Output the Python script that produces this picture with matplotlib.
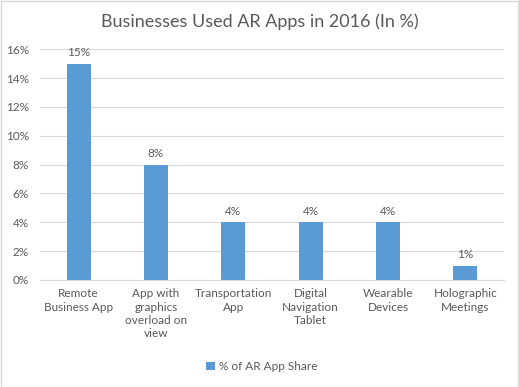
import matplotlib.pyplot as plt
from matplotlib.ticker import FuncFormatter

categories = [
    "Remote\nBusiness App",
    "App with\ngraphics\noverload on\nview",
    "Transportation\nApp",
    "Digital\nNavigation\nTablet",
    "Wearable\nDevices",
    "Holographic\nMeetings",
]
share = [15, 8, 4, 4, 4, 1]

BLUE = "#5b9bd5"
TEXT = "#595959"
GRID = "#d9d9d9"

plt.rcParams["font.family"] = ["Lato", "DejaVu Sans"]

fig = plt.figure(figsize=(5.19, 3.87), dpi=100)
ax = fig.add_axes([0.077, 0.2765, 0.894, 0.5965])

x = range(len(categories))
bars = ax.bar(x, share, width=0.31, color=BLUE, zorder=2, label="% of AR App Share")
for xi, v in zip(x, share):
    ax.annotate(f"{v}%", (xi, v), xytext=(0, 4), textcoords="offset points",
                ha="center", va="bottom", fontsize=8.5, color=TEXT)

ax.set_xlim(-0.5, len(categories) - 0.5)
ax.set_ylim(0, 16)
ax.set_yticks(range(0, 17, 2))
ax.yaxis.set_major_formatter(FuncFormatter(lambda v, _: f"{v:.0f}%"))
ax.set_xticks(list(x))
ax.set_xticklabels(categories, fontsize=8.5, color=TEXT, linespacing=1.25)
ax.tick_params(axis="y", labelsize=8.5, labelcolor=TEXT, length=0, pad=8)
ax.tick_params(axis="x", length=0, pad=6)
ax.grid(axis="y", color=GRID, lw=0.8, zorder=0)
for side in ("top", "right", "left"):
    ax.spines[side].set_visible(False)
ax.spines["bottom"].set_color(GRID)

fig.suptitle("Businesses Used AR Apps in 2016 (In %)", y=0.965, fontsize=13, color=TEXT)
fig.legend(handles=[bars], labels=["% of AR App Share"], loc="center", bbox_to_anchor=(0.505, 0.052),
           frameon=False, fontsize=8.5, labelcolor=TEXT, handlelength=0.7, handleheight=0.7,
           handletextpad=0.4)

fig.patches.append(plt.Rectangle((0.001, 0.001), 0.997, 0.997, transform=fig.transFigure,
                                 fill=False, edgecolor=GRID, lw=1))

fig.savefig("out.png", dpi=100)
